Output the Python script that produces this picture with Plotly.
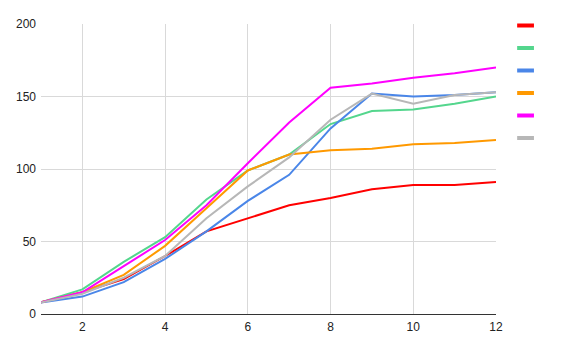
import plotly.graph_objects as go

x_vals = list(range(1, 13))
red = [8, 15, 24, 40, 57, 66, 75, 80, 86, 89, 89, 91]
green = [8, 17, 36, 53, 79, 99, 110, 131, 140, 141, 145, 150]
blue = [8, 12, 22, 38, 57, 78, 96, 128, 152, 150, 151, 153]
orange = [8, 15, 27, 47, 73, 99, 110, 113, 114, 117, 118, 120]
magenta = [8, 15, 33, 51, 75, 104, 132, 156, 159, 163, 166, 170]
gray = [8, 14, 25, 40, 66, 88, 108, 134, 152, 145, 151, 153]

series = [red, green, blue, orange, magenta, gray]
colors = ["#ff0000", "#54d68d", "#4a86e8", "#ff9900", "#ff00ff", "#b7b7b7"]
x_ticks = [2, 4, 6, 8, 10, 12]
y_ticks = [0, 50, 100, 150, 200]

fig = go.Figure()
for vals, c in zip(series, colors):
    fig.add_trace(go.Scatter(x=x_vals, y=vals, mode="lines",
                             line=dict(color=c, width=2), showlegend=False,
                             hoverinfo="skip"))
for i, c in enumerate(colors):
    fig.add_trace(go.Scatter(x=[None], y=[None], mode="markers", name=" ",
                             marker=dict(symbol="line-ew", size=12, color=c,
                                         line=dict(color=c, width=4)),
                             legendgroup=str(i), showlegend=True))

fig.update_layout(
    width=567, height=351,
    margin=dict(l=33, r=79, t=16, b=45, autoexpand=False),
    paper_bgcolor="white", plot_bgcolor="white",
    font=dict(family="Liberation Sans, Arial, sans-serif", size=12, color="#222222"),
    xaxis=dict(range=[1, 12], tickvals=x_ticks, showgrid=True, gridcolor="#d9d9d9",
               gridwidth=1, zeroline=False, showline=False, ticks="",
               ticklabelstandoff=4, automargin=False,
               tickfont=dict(size=12, color="#222222")),
    yaxis=dict(range=[0, 200], tickvals=y_ticks, showgrid=True, gridcolor="#d9d9d9",
               gridwidth=1, zeroline=True, zerolinecolor="#333333", zerolinewidth=1,
               showline=False, ticks="", ticklabelstandoff=4, automargin=False,
               tickfont=dict(size=12, color="#222222")),
    legend=dict(x=1.021, xanchor="left", y=1.045, yanchor="top",
                traceorder="grouped", tracegroupgap=3.5, itemwidth=30,
                font=dict(size=12), bgcolor="rgba(0,0,0,0)"),
)

fig.write_html("out.html")
